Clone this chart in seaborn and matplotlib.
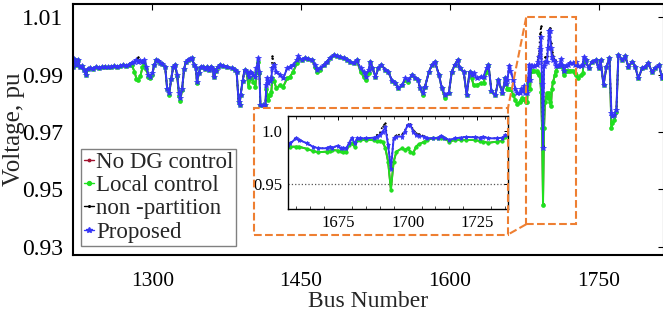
import numpy as np
import pandas as pd
import matplotlib
matplotlib.use("Agg")
import matplotlib.pyplot as plt
import seaborn as sns
from matplotlib.patches import Rectangle
from matplotlib.lines import Line2D
from matplotlib.ticker import MultipleLocator

bus = [1220,1221,1223,1225,1227,1229,1231,1233,1235,1237,
       1240,1243,1246,1249,1252,1255,1258,1261,1264,1267,
       1270,1273,1276,1279,1282,1284,1286,1288,1290,1292,
       1294,1296,1298,1300,1302,1304,1306,1308,1310,1313,
       1315,1317,1319,1321,1323,1325,1327,1328,1330,1332,
       1334,1336,1338,1340,1342,1344,1345,1347,1349,1351,
       1353,1355,1357,1359,1361,1362,1364,1366,1368,1371,
       1375,1380,1383,1385,1387,1388,1389,1391,1393,1395,
       1397,1399,1400,1402,1404,1405,1407,1408,1409,1412,
       1414,1415,1416,1417,1419,1420,1421,1423,1425,1429,
       1432,1436,1439,1442,1446,1447,1451,1454,1457,1461,
       1464,1466,1469,1473,1476,1479,1483,1486,1489,1493,
       1496,1499,1503,1506,1510,1513,1515,1518,1520,1522,
       1525,1528,1531,1535,1538,1542,1545,1548,1552,1555,
       1558,1562,1565,1568,1570,1573,1575,1579,1582,1585,
       1589,1592,1595,1599,1602,1605,1608,1610,1614,1617,
       1620,1622,1624,1627,1631,1634,1637,1639,1642,1646,
       1649,1653,1656,1657,1658,1660,1661,1664,1666,1668,
       1671,1672,1673,1675,1676,1677,1678,1679,1680,1681,
       1682,1683,1685,1688,1689,1690,1691,1692,1693,1694,
       1695,1696,1698,1699,1700,1701,1702,1703,1704,1706,
       1707,1709,1711,1712,1713,1715,1717,1719,1721,1724,
       1726,1727,1729,1732,1734,1735,1737,1740,1743,1747,
       1750,1752,1755,1758,1761,1763,1764,1766,1768,1770,
       1774,1777,1780,1784,1787,1790,1794,1797,1800,1804,
       1807,1811,1814,1815]

proposed = [.9925,.9955,.9935,.9950,.9925,.9930,.9915,.9900,.9918,.9922,
            .9920,.9925,.9922,.9925,.9928,.9925,.9928,.9930,.9928,.9930,
            .9932,.9930,.9935,.9942,.9945,.9952,.9945,.9948,.9945,.9950,
            .9925,.9900,.9893,.9905,.9935,.9950,.9948,.9940,.9938,.9925,
            .9850,.9835,.9885,.9925,.9935,.9900,.9835,.9818,.9850,.9920,
            .9945,.9950,.9955,.9957,.9935,.9922,.9875,.9905,.9928,.9925,
            .9918,.9925,.9915,.9928,.9920,.9890,.9912,.9925,.9934,.9930,
            .9928,.9922,.9916,.9910,.9806,.9794,.9829,.9876,.9916,.9910,
            .9893,.9910,.9905,.9899,.9893,.9922,.9957,.9910,.9794,.9794,
            .9794,.9864,.9887,.9870,.9876,.9887,.9922,.9934,.9910,.9899,
            .9887,.9922,.9928,.9934,.9951,.9963,.9951,.9957,.9955,.9951,
            .9934,.9916,.9922,.9934,.9945,.9957,.9969,.9963,.9960,.9957,
            .9951,.9945,.9939,.9951,.9922,.9910,.9893,.9916,.9945,.9922,
            .9893,.9922,.9934,.9916,.9910,.9876,.9870,.9852,.9864,.9887,
            .9881,.9899,.9887,.9881,.9852,.9835,.9858,.9910,.9934,.9945,
            .9899,.9852,.9829,.9835,.9910,.9934,.9951,.9922,.9910,.9829,
            .9910,.9899,.9905,.9887,.9893,.9893,.9922,.9934,.9841,.9829,
            .9881,.9835,.9887,.9867,.9882,.9929,.9914,.9882,.9851,.9836,
            .9836,.9851,.9842,.9861,.9836,.9842,.9836,.9882,.9935,.9882,
            .9929,.9929,.9929,.9935,.9945,.9960,.9990,1.0030,.9867,.9643,
            .9929,.9945,.9945,.9991,1.0053,1.0053,.9991,.9960,.9950,.9945,
            .9929,.9929,.9935,.9954,.9935,.9914,.9929,.9935,.9942,.9939,
            .9935,.9945,.9929,.9929,.9935,.9960,.9951,.9922,.9945,.9951,
            .9922,.9951,.9864,.9928,.9957,.9765,.9754,.9760,.9777,.9969,
            .9951,.9963,.9928,.9945,.9928,.9887,.9922,.9928,.9939,.9910,
            .9922,.9934,.9887,.9900]

local_control = [.9925,.9955,.9935,.9950,.9925,.9930,.9915,.9900,.9918,.9922,
                 .9920,.9925,.9922,.9925,.9928,.9925,.9928,.9930,.9928,.9930,
                 .9932,.9930,.9935,.9935,.9910,.9885,.9882,.9895,.9925,.9938,
                 .9920,.9893,.9887,.9900,.9935,.9950,.9948,.9940,.9938,.9925,
                 .9848,.9830,.9885,.9925,.9935,.9895,.9825,.9808,.9845,.9920,
                 .9945,.9950,.9955,.9957,.9935,.9922,.9872,.9905,.9928,.9925,
                 .9918,.9925,.9915,.9928,.9920,.9890,.9912,.9925,.9934,.9930,
                 .9928,.9922,.9916,.9910,.9806,.9794,.9829,.9876,.9916,.9910,
                 .9858,.9887,.9887,.9875,.9858,.9910,.9945,.9905,.9794,.9794,
                 .9794,.9850,.9829,.9812,.9829,.9840,.9887,.9876,.9852,.9864,
                 .9858,.9887,.9893,.9910,.9940,.9955,.9951,.9957,.9955,.9951,
                 .9928,.9910,.9915,.9934,.9945,.9957,.9969,.9963,.9960,.9957,
                 .9951,.9945,.9939,.9951,.9910,.9893,.9881,.9905,.9945,.9922,
                 .9893,.9922,.9934,.9916,.9910,.9876,.9870,.9852,.9864,.9881,
                 .9875,.9899,.9887,.9881,.9852,.9829,.9858,.9910,.9934,.9945,
                 .9899,.9852,.9818,.9835,.9910,.9934,.9951,.9922,.9910,.9829,
                 .9910,.9887,.9864,.9864,.9870,.9870,.9910,.9934,.9841,.9829,
                 .9881,.9835,.9887,.9867,.9851,.9851,.9851,.9830,.9811,.9799,
                 .9805,.9810,.9820,.9815,.9811,.9805,.9805,.9870,.9882,.9851,
                 .9914,.9914,.9914,.9912,.9904,.9900,.9898,.9840,.9712,.9447,
                 .9712,.9805,.9836,.9820,.9836,.9805,.9789,.9851,.9873,.9898,
                 .9914,.9929,.9929,.9935,.9929,.9898,.9914,.9914,.9914,.9914,
                 .9904,.9898,.9887,.9898,.9904,.9945,.9951,.9922,.9945,.9951,
                 .9922,.9951,.9864,.9928,.9957,.9713,.9730,.9740,.9770,.9969,
                 .9951,.9963,.9928,.9945,.9928,.9887,.9922,.9928,.9939,.9910,
                 .9922,.9934,.9887,.9900]

no_dg_control = [.9925,.9955,.9935,.9950,.9925,.9930,.9915,.9900,.9918,.9922,
                 .9920,.9925,.9922,.9925,.9928,.9925,.9928,.9930,.9928,.9930,
                 .9932,.9930,.9935,.9935,.9910,.9885,.9882,.9895,.9925,.9938,
                 .9920,.9893,.9887,.9900,.9935,.9950,.9948,.9940,.9938,.9925,
                 .9848,.9830,.9885,.9925,.9935,.9895,.9825,.9808,.9845,.9920,
                 .9945,.9950,.9955,.9957,.9935,.9922,.9872,.9905,.9928,.9925,
                 .9918,.9925,.9915,.9928,.9920,.9890,.9912,.9925,.9934,.9930,
                 .9928,.9922,.9916,.9910,.9806,.9794,.9829,.9876,.9916,.9910,
                 .9858,.9887,.9887,.9875,.9858,.9910,.9945,.9905,.9794,.9794,
                 .9794,.9850,.9829,.9812,.9829,.9840,.9887,.9876,.9852,.9864,
                 .9858,.9887,.9893,.9910,.9940,.9955,.9951,.9957,.9955,.9951,
                 .9928,.9910,.9915,.9934,.9945,.9957,.9969,.9963,.9960,.9957,
                 .9951,.9945,.9939,.9951,.9910,.9893,.9881,.9905,.9945,.9922,
                 .9893,.9922,.9934,.9916,.9910,.9876,.9870,.9852,.9864,.9881,
                 .9875,.9899,.9887,.9881,.9852,.9829,.9858,.9910,.9934,.9945,
                 .9899,.9852,.9818,.9835,.9910,.9934,.9951,.9922,.9910,.9829,
                 .9910,.9887,.9864,.9864,.9870,.9870,.9910,.9934,.9841,.9829,
                 .9881,.9835,.9887,.9867,.9851,.9851,.9851,.9830,.9811,.9799,
                 .9805,.9810,.9820,.9815,.9811,.9805,.9805,.9870,.9882,.9851,
                 .9914,.9914,.9914,.9912,.9904,.9900,.9898,.9840,.9712,.9450,
                 .9712,.9805,.9836,.9820,.9836,.9805,.9789,.9851,.9873,.9898,
                 .9914,.9929,.9929,.9935,.9929,.9898,.9914,.9914,.9914,.9914,
                 .9904,.9898,.9887,.9898,.9904,.9945,.9951,.9922,.9945,.9951,
                 .9922,.9951,.9864,.9928,.9957,.9713,.9730,.9740,.9770,.9969,
                 .9951,.9963,.9928,.9945,.9928,.9887,.9922,.9928,.9939,.9910,
                 .9922,.9934,.9887,.9900]

non_partition = [.9925,.9955,.9935,.9950,.9925,.9930,.9915,.9900,.9918,.9922,
                 .9920,.9925,.9922,.9925,.9928,.9925,.9928,.9930,.9928,.9930,
                 .9932,.9930,.9935,.9942,.9945,.9952,.9960,.9948,.9945,.9950,
                 .9925,.9900,.9893,.9905,.9935,.9950,.9948,.9940,.9938,.9925,
                 .9850,.9835,.9885,.9925,.9935,.9900,.9835,.9818,.9850,.9920,
                 .9945,.9950,.9955,.9957,.9935,.9922,.9875,.9905,.9928,.9925,
                 .9918,.9925,.9915,.9928,.9920,.9890,.9912,.9925,.9934,.9930,
                 .9928,.9922,.9916,.9910,.9806,.9794,.9829,.9876,.9916,.9910,
                 .9893,.9910,.9905,.9899,.9893,.9922,.9957,.9910,.9794,.9794,
                 .9794,.9864,.9887,.9870,.9876,.9887,.9963,.9940,.9910,.9899,
                 .9887,.9922,.9928,.9934,.9951,.9963,.9951,.9957,.9955,.9951,
                 .9934,.9916,.9922,.9934,.9945,.9957,.9969,.9963,.9960,.9957,
                 .9951,.9945,.9939,.9951,.9922,.9910,.9893,.9916,.9945,.9922,
                 .9893,.9922,.9934,.9916,.9910,.9876,.9870,.9852,.9864,.9887,
                 .9881,.9899,.9887,.9881,.9852,.9835,.9858,.9910,.9934,.9945,
                 .9899,.9852,.9829,.9835,.9910,.9934,.9951,.9922,.9910,.9829,
                 .9910,.9899,.9905,.9887,.9893,.9893,.9922,.9934,.9841,.9829,
                 .9881,.9835,.9887,.9867,.9882,.9935,.9914,.9882,.9851,.9836,
                 .9836,.9851,.9842,.9861,.9836,.9842,.9836,.9882,.9935,.9882,
                 .9929,.9929,.9929,.9935,.9960,.9975,1.0040,1.0068,.9880,.9650,
                 .9935,.9960,.9965,1.0000,1.0060,1.0062,1.0010,.9980,.9965,.9950,
                 .9929,.9929,.9935,.9954,.9935,.9914,.9929,.9935,.9942,.9939,
                 .9935,.9945,.9929,.9929,.9935,.9960,.9951,.9922,.9945,.9951,
                 .9922,.9951,.9864,.9928,.9957,.9765,.9754,.9760,.9777,.9969,
                 .9951,.9963,.9928,.9945,.9928,.9887,.9922,.9928,.9939,.9910,
                 .9922,.9934,.9887,.9900]

series_names = ["No DG control", "Local control", "non -partition", "Proposed"]
xticks = [1300, 1450, 1600, 1750]
yticks = [0.93, 0.95, 0.97, 0.99, 1.01]
ytick_labels = ["0.93", "0.95", "0.97", "0.99", "1.01"]
inset_xticks = [1675, 1700, 1725]
inset_yticks = [0.95, 1.0]
inset_ytick_labels = ["0.95", "1.0"]

sns.set_theme(style="white")
plt.rcParams["font.family"] = ["Liberation Serif", "DejaVu Serif"]

c_red = "#a2142f"
c_green = "#1fe01f"
c_black = "#000000"
c_blue = "#3535f8"
c_orange = "#ee7f32"

styles = [
    dict(y=no_dg_control, color=c_red, ls="-", marker=".", ms=3.5, lw=1.3),
    dict(y=local_control, color=c_green, ls="-", marker="o", ms=2.8, lw=1.4),
    dict(y=non_partition, color=c_black, ls=":", marker=".", ms=2.4, lw=1.2),
    dict(y=proposed, color=c_blue, ls="-", marker="*", ms=4.0, lw=1.4),
]

fig = plt.figure(figsize=(6.63, 3.14), dpi=100)
W, H = 663.0, 314.0
ax = fig.add_axes([73 / W, (H - 255) / H, (664 - 73) / W, (255 - 4) / H])

for name, st in zip(series_names, styles):
    sns.lineplot(x=bus, y=st["y"], ax=ax, color=st["color"], linestyle=st["ls"],
                 marker=st["marker"], markersize=st["ms"], markeredgewidth=0.5,
                 markeredgecolor=st["color"], linewidth=st["lw"], estimator=None,
                 sort=False, legend=False)

ax.set_xlim(1220, 1816)
ax.set_ylim(0.9271, 1.0146)
ax.set_xticks(xticks)
ax.set_xticklabels([str(t) for t in xticks])
ax.set_yticks(yticks)
ax.set_yticklabels(ytick_labels)
ax.tick_params(axis="both", direction="in", length=4, width=0.8, top=True, right=True,
               colors="black")
ax.tick_params(axis="x", labelsize=15.5, pad=12)
ax.tick_params(axis="y", labelsize=17, pad=7)
for s in ax.spines.values():
    s.set_color("black")
    s.set_linewidth(1.5)
ax.set_xlabel("Bus Number", fontsize=17, labelpad=0)
ax.set_ylabel("Voltage, pu", fontsize=18)
ax.yaxis.set_label_coords((25 - 73) / (664 - 73), 0.5)

# legend
handles = [Line2D([0], [0], color=st["color"], ls="-", marker=st["marker"], ms=st["ms"],
                  lw=1.0) for st in styles]
leg = ax.legend(handles, series_names, loc="upper left",
                bbox_to_anchor=(81 / W, 1 - 149 / H), bbox_transform=fig.transFigure,
                fontsize=16.5, handlelength=0.45, handletextpad=0.1, labelspacing=0.1,
                borderpad=0.12, borderaxespad=0, frameon=True, fancybox=False,
                framealpha=1, edgecolor="#808080")
leg.get_frame().set_linewidth(1.0)

# zoom rectangle in main axes
rx0, rx1, ry0, ry1 = 1677, 1727.3, 0.9378, 1.0099
ax.add_patch(Rectangle((rx0, ry0), rx1 - rx0, ry1 - ry0, fill=False, ec=c_orange,
                       ls="--", lw=1.5, zorder=6))

# inset
iax = fig.add_axes([287.7 / W, (H - 209) / H, (508 - 287.7) / W, (209 - 116) / H])
iax.set_zorder(5)
for name, st in zip(series_names, styles):
    sns.lineplot(x=bus, y=st["y"], ax=iax, color=st["color"], linestyle=st["ls"],
                 marker=st["marker"], markersize=st["ms"] * 0.9, markeredgewidth=0.5,
                 markeredgecolor=st["color"], linewidth=st["lw"], estimator=None,
                 sort=False, legend=False)
iax.axhline(0.95, color="#555555", ls=":", lw=0.9, zorder=0)
iax.set_xlim(1657, 1736)
iax.set_ylim(0.927, 1.0137)
iax.set_xticks(inset_xticks)
iax.set_xticklabels([str(t) for t in inset_xticks])
iax.set_yticks(inset_yticks)
iax.set_yticklabels(inset_ytick_labels)
iax.xaxis.set_minor_locator(MultipleLocator(5))
iax.tick_params(axis="both", which="major", direction="in", length=3, width=0.7,
                top=True, right=True, labelsize=12, pad=4, colors="black")
iax.tick_params(axis="x", which="minor", direction="in", length=2, width=0.6,
                top=True, bottom=True)
iax.set_xlabel("")
iax.set_ylabel("")
for s in iax.spines.values():
    s.set_color("black")
    s.set_linewidth(1.0)

# inset frame and connector lines (figure coordinates)
bx0, bx1 = 254 / W, 508 / W
by_top, by_bot = 1 - 108 / H, 1 - 234.5 / H
fig.add_artist(Rectangle((bx0, by_bot), bx1 - bx0, by_top - by_bot, fill=False,
                         ec=c_orange, ls="--", lw=1.5, transform=fig.transFigure,
                         zorder=10))

def d2f(x, y):
    return fig.transFigure.inverted().transform(ax.transData.transform((x, y)))

p_top = d2f(rx0, ry1)
p_bot = d2f(rx0, ry0)
fig.add_artist(Line2D([p_top[0], bx1], [p_top[1], by_top], color=c_orange, ls="--",
                      lw=1.5, transform=fig.transFigure, zorder=10))
fig.add_artist(Line2D([p_bot[0], bx1], [p_bot[1], by_bot], color=c_orange, ls="--",
                      lw=1.5, transform=fig.transFigure, zorder=10))

fig.savefig("out.png", dpi=100)
